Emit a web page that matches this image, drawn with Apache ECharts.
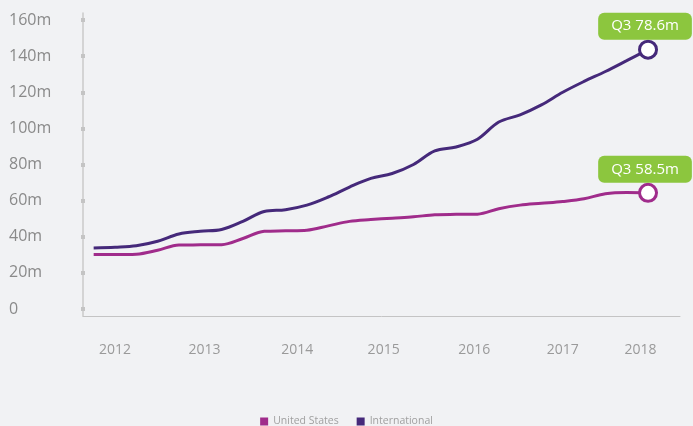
<!DOCTYPE html>
<html>
<head>
<meta charset="utf-8">
<script src="https://cdn.jsdelivr.net/npm/echarts@6/dist/echarts.min.js"></script>
<style>
html,body{margin:0;padding:0;background:#f1f2f4;}
#c{width:693px;height:426px;}
</style>
</head>
<body>
<div id="c"></div>
<script>
// Quarter index: 0 = Q1 2012 ... 26 = Q3 2018
const quarters = [0,1,2,3,4,5,6,7,8,9,10,11,12,13,14,15,16,17,18,19,20,21,22,23,24,25,26];
const usValues = [30.1,30.1,30.3,32.5,35.4,35.5,35.6,39,43,43.3,43.6,46,48.5,49.5,50.3,51,52.2,52.4,52.5,55.5,57.5,58.5,59.5,61,63.8,64.5,64.3];
const intlValues = [33.8,34.2,35,37.5,41.5,43,44,48.5,54,55,57.5,62,67.5,72.3,75,80,87.5,89.7,94,103.5,107.5,113,120,126,131.5,137.5,143.6];
const yearLabels = ['2012','2013','2014','2015','2016','2017','2018'];
const yearPositions = [1,5.2,9.55,13.6,17.85,22,25.65];
const yTicks = [0,20,40,60,80,100,120,140,160];
const seriesNames = ['United States','International'];
const endLabels = ['Q3 58.5m','Q3 78.6m'];
const colors = ['#a02c8b','#45297a'];

const FONT = 'Open Sans';
const chart = echarts.init(document.getElementById('c'));

function mkSeries(i, values) {
  const last = values.length - 1;
  return {
    name: seriesNames[i],
    type: 'line',
    yAxisIndex: 0,
    data: quarters.map((q, k) => [q, values[k]]),
    smooth: 0.35,
    symbol: 'none',
    lineStyle: { width: 3, color: colors[i] },
    itemStyle: { color: colors[i] },
    z: 3 + i,
    markPoint: {
      symbol: 'circle',
      symbolSize: 17,
      animation: false,
      itemStyle: { color: '#ffffff', borderColor: colors[i], borderWidth: 3 },
      label: {
        show: true,
        position: 'top',
        distance: 0,
        offset: [-3, 0],
        formatter: endLabels[i],
        color: '#ffffff',
        fontFamily: FONT,
        fontSize: 15,
        backgroundColor: '#8cc63e',
        borderRadius: 6,
        padding: [5, 13, 5, 13],
        lineHeight: 17
      },
      data: [{ coord: [quarters[last], values[last]] }]
    }
  };
}

chart.setOption({
  animation: false,
  backgroundColor: '#f1f2f4',
  textStyle: { fontFamily: FONT },
  grid: { left: 83, right: 13, top: 13, bottom: 110, containLabel: false },
  legend: {
    bottom: -6,
    left: 'center',
    icon: 'rect',
    itemWidth: 8,
    itemHeight: 8,
    itemGap: 18,
    textStyle: { color: '#a0a0a0', fontSize: 10.5, fontFamily: FONT },
    data: seriesNames
  },
  xAxis: {
    type: 'value',
    min: -0.5,
    max: 27.5,
    axisLine: { onZero: false, lineStyle: { color: '#c4c4c4', width: 1 } },
    axisTick: { show: false },
    splitLine: { show: false },
    axisLabel: {
      customValues: yearPositions,
      formatter: function (v) {
        const k = yearPositions.indexOf(v);
        return k >= 0 ? yearLabels[k] : '';
      },
      color: '#9a9a9a',
      fontSize: 14,
      fontFamily: FONT,
      margin: 27
    }
  },
  yAxis: [{
    type: 'value',
    min: -3.9,
    max: 163.9,
    axisLine: { show: true, onZero: false, lineStyle: { color: '#cacaca', width: 1.5 } },
    axisTick: { show: false },
    splitLine: { show: false },
    axisLabel: {
      customValues: yTicks,
      formatter: function (v) { return v === 0 ? '0' : v + 'm'; },
      color: '#8a8a8a',
      fontSize: 16,
      fontFamily: FONT,
      align: 'left',
      margin: 74
    }
  }, {
    type: 'value',
    min: -3.9,
    max: 163.9,
    position: 'left',
    offset: -2,
    axisLine: { show: false, onZero: false },
    splitLine: { show: false },
    axisLabel: { show: false },
    axisTick: {
      show: true,
      customValues: yTicks,
      length: 4,
      lineStyle: { color: '#c4c4c4', width: 4 }
    }
  }],
  series: [mkSeries(0, usValues), mkSeries(1, intlValues)]
});
</script>
</body>
</html>
